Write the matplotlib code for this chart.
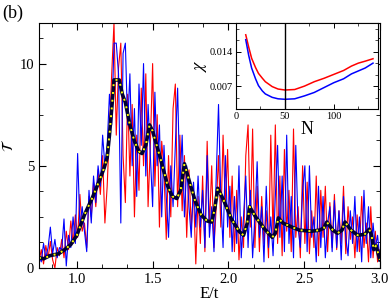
import numpy as np
import matplotlib
matplotlib.use("Agg")
import matplotlib.pyplot as plt
from matplotlib.ticker import MultipleLocator, FormatStrFormatter

plt.rcParams['font.family'] = ['Liberation Serif', 'DejaVu Serif']
plt.rcParams['mathtext.fontset'] = 'stix'

# ---- main panel data ----
E_start, E_step = 0.75, 0.015
red_T = [0.3, 0.9, 0.2, 1.1, 0.5, 1.3, 0.4, 0.0, 1.0, 0.6,
         1.4, 0.5, 1.8, 0.9, 2.3, 1.2, 2.6, 1.5, 3.6, 1.8,
         2.2, 1.0, 3.5, 2.5, 4.2, 3.0, 4.8, 3.6, 5.5, 2.2,
         4.0, 6.8, 9.5, 12.0, 6.5, 9.8, 11.0, 5.5, 3.2, 8.5,
         4.5, 8.0, 2.5, 6.5, 3.8, 8.8, 5.0, 9.5, 3.0, 6.0,
         10.0, 4.0, 7.5, 2.0, 6.2, 4.8, 1.4, 5.5, 2.5, 7.8,
         9.0, 3.0, 6.5, 2.8, 5.5, 1.5, 4.8, 2.0, 3.8, 0.2,
         3.5, 1.2, 4.5, 0.8, 6.2, 2.0, 5.0, 1.0, 3.0, 5.5,
         2.0, 6.5, 3.0, 5.8, 1.5, 4.5, 0.8, 3.8, 0.4, 2.5,
         1.0, 5.5, 7.0, 2.0, 6.8, 1.0, 4.0, 0.8, 3.5, 1.2,
         2.8, 0.5, 6.5, 1.5, 7.0, 1.2, 4.5, 0.6, 5.8, 1.8,
         3.8, 0.8, 6.8, 1.5, 3.0, 0.5, 5.0, 1.2, 4.2, 0.7,
         2.8, 1.0, 4.5, 0.6, 3.8, 1.5, 4.0, 0.8, 3.2, 1.0,
         3.6, 0.9, 2.8, 1.2, 4.0, 0.7, 3.0, 1.4, 2.5, 0.5,
         2.6, 0.8, 3.5, 1.0, 2.2, 0.3, 3.0, 0.5, 1.8, 0.3, 0.9]
blue_T = [0.6, 0.3, 1.2, 0.5, 1.0, 2.0, 0.7, 1.4, 0.5, 1.0,
          0.9, 2.4, 0.1, 1.6, 1.0, 2.5, 1.2, 5.6, 2.0, 3.0,
          1.8, 0.8, 3.8, 2.2, 4.5, 3.2, 5.0, 4.0, 6.5, 5.0,
          6.0, 8.5, 7.0, 11.0, 11.0, 9.5, 2.2, 10.5, 11.0, 7.0,
          9.5, 5.0, 7.8, 3.5, 9.0, 6.0, 10.0, 4.5, 8.0, 5.5,
          3.0, 8.6, 5.0, 7.0, 2.5, 6.0, 3.5, 1.5, 5.0, 3.0,
          6.0, 8.8, 4.0, 6.5, 2.5, 5.0, 3.0, 1.5, 4.2, 2.0,
          4.5, 2.0, 3.8, 1.0, 5.5, 1.5, 3.0, 0.8, 4.5, 8.0,
          3.5, 1.0, 5.5, 2.0, 4.0, 0.8, 3.5, 1.2, 5.0, 0.5,
          2.5, 4.5, 1.0, 3.8, 0.5, 2.5, 5.2, 1.5, 3.0, 0.3,
          4.0, 1.0, 2.5, 0.6, 3.5, 6.0, 1.5, 4.5, 0.8, 6.5,
          1.2, 3.5, 0.5, 6.0, 2.0, 1.0, 3.8, 5.0, 0.8, 5.0,
          1.5, 2.5, 0.3, 4.0, 1.0, 3.5, 0.5, 2.2, 3.0, 0.8,
          3.3, 1.0, 2.8, 0.4, 3.5, 1.5, 0.6, 2.8, 1.2, 3.5,
          0.8, 2.5, 0.3, 3.8, 1.2, 3.0, 0.5, 2.2, 1.0, 1.6, 0.4]
avg_E = [0.75, 0.78, 0.82, 0.88, 0.92, 0.96, 1.0, 1.05, 1.1, 1.15, 1.18, 1.2,
         1.215, 1.23, 1.245, 1.28, 1.3, 1.32, 1.35, 1.38, 1.41, 1.43, 1.455,
         1.48, 1.5, 1.55, 1.6, 1.63, 1.66, 1.685, 1.71, 1.74, 1.78, 1.82,
         1.86, 1.89, 1.91, 1.93, 1.97, 2.02, 2.07, 2.1, 2.125, 2.14, 2.18,
         2.24, 2.29, 2.31, 2.33, 2.36, 2.42, 2.47, 2.55, 2.6, 2.63, 2.65,
         2.69, 2.72, 2.75, 2.77, 2.81, 2.855, 2.9, 2.93, 2.945, 2.96, 2.975, 3.0]
avg_T = [0.5, 0.45, 0.6, 0.7, 0.9, 1.15, 1.6, 2.6, 3.4, 4.3, 4.9, 5.4,
         6.5, 7.8, 9.2, 9.2, 8.5, 8.1, 7.0, 6.2, 5.7, 5.6, 6.0,
         7.0, 6.7, 5.4, 4.0, 3.5, 3.4, 3.8, 5.1, 4.3, 3.3, 2.6,
         2.3, 2.25, 2.9, 3.9, 3.3, 2.4, 1.8, 1.6, 2.2, 3.0, 2.5,
         1.9, 1.5, 1.7, 2.45, 2.2, 2.0, 1.85, 1.8, 1.85, 1.95, 2.25,
         1.85, 1.7, 1.85, 2.25, 1.85, 1.6, 1.65, 1.9, 1.6, 0.9, 1.1, 0.4]

# ---- inset data ----
N_red = [10, 13, 16, 20, 23, 27, 30, 37, 43, 50, 60, 70, 80, 90, 100, 110, 118, 125, 132, 140]
chi_red = [0.0175, 0.0150, 0.0127, 0.0108, 0.0096, 0.0086, 0.0079, 0.0069, 0.0064, 0.0062,
           0.0063, 0.0070, 0.0079, 0.0086, 0.0094, 0.0102, 0.0111, 0.0117, 0.0121, 0.0126]
N_blue = [10, 13, 16, 20, 23, 27, 30, 37, 43, 50, 60, 70, 80, 90, 100, 110, 118, 125, 132, 140]
chi_blue = [0.0165, 0.0133, 0.0107, 0.0085, 0.0071, 0.0060, 0.0054, 0.0047, 0.0044, 0.0043,
            0.0044, 0.0050, 0.0057, 0.0067, 0.0077, 0.0085, 0.0095, 0.0101, 0.0107, 0.0117]
N_mark = 50

E = E_start + E_step * np.arange(len(red_T))

fig = plt.figure(figsize=(3.9, 3.01), dpi=100)
ax = fig.add_axes([0.1, 0.1096, 0.874, 0.815])
ax.plot(E, red_T, color='#ff0000', lw=0.8)
ax.plot(E, blue_T, color='#0000ff', lw=0.8)
ax.plot(avg_E, avg_T, color='#000033', lw=2.6)
ax.plot(avg_E, avg_T, color='#ffff00', lw=1.4, ls=(0, (1, 3)))
ax.set_xlim(0.75, 3.0)
ax.set_ylim(0, 12)
ax.xaxis.set_major_locator(MultipleLocator(0.5))
ax.xaxis.set_minor_locator(MultipleLocator(0.5 / 3))
ax.yaxis.set_major_locator(MultipleLocator(5))
ax.yaxis.set_minor_locator(MultipleLocator(1.25))
ax.tick_params(which='both', direction='in', top=True, right=True, labelsize=10.5)
ax.tick_params(which='major', length=5, width=0.8)
ax.tick_params(which='minor', length=2.8, width=0.6)
ax.xaxis.set_major_formatter(FormatStrFormatter('%.1f'))
ax.set_xlabel('E/t', fontsize=12, labelpad=0)
ax.set_ylabel(r'$\mathcal{T}$', fontsize=11)
ax.yaxis.set_label_coords(-0.068, 0.5)
fig.text(0.005, 0.985, '(b)', fontsize=13, va='top', ha='left')

# ---- inset ----
ins = fig.add_axes([0.605, 0.637, 0.364, 0.288])
ins.plot(N_red, chi_red, color='#ff0000', lw=1.1)
ins.plot(N_blue, chi_blue, color='#0000ff', lw=1.1)
ins.axvline(N_mark, color='black', lw=1.0)
ins.set_xlim(0, 145)
ins.set_ylim(0.00226, 0.0200)
ins.xaxis.set_major_locator(MultipleLocator(50))
ins.xaxis.set_minor_locator(MultipleLocator(25))
ins.set_yticks([0.007, 0.014])
ins.yaxis.set_minor_locator(MultipleLocator(0.007 / 3))
ins.tick_params(which='both', direction='in', top=True, right=True, labelsize=7.5, pad=2)
ins.tick_params(which='major', length=3.5, width=0.7)
ins.tick_params(which='minor', length=2, width=0.5)
ins.yaxis.set_major_formatter(FormatStrFormatter('%.3f'))
ins.set_xlabel('N', fontsize=13, labelpad=0)
ins.set_ylabel(r'$\chi$', fontsize=13, labelpad=1)

fig.savefig('out.png', dpi=100)
